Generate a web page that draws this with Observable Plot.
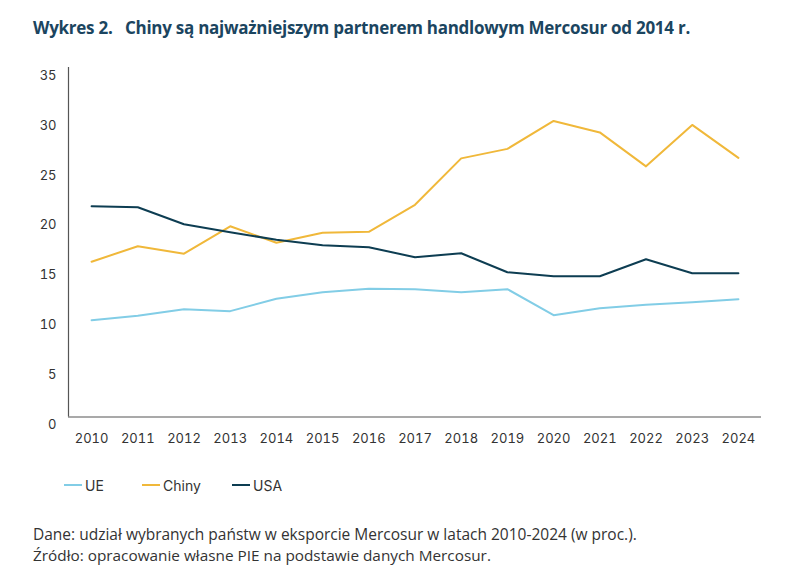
<!DOCTYPE html>
<html><head><meta charset="utf-8">
<script src="https://cdn.jsdelivr.net/npm/d3@7"></script>
<script src="https://cdn.jsdelivr.net/npm/@observablehq/plot@0.6"></script>
<style>
body{margin:0;background:#fff;width:797px;height:586px;position:relative;overflow:hidden;font-family:"Open Sans",sans-serif;}
.t{position:absolute;white-space:pre;line-height:1;}
#title{left:33px;top:19px;font-weight:700;font-family:"Open Sans",sans-serif;color:#1b4560;}
#chart{position:absolute;left:0;top:50px;}
#legend{position:absolute;left:0;top:476px;font:14px Inter,sans-serif;color:#333;}
.li{position:absolute;top:0;white-space:nowrap;display:flex;align-items:center;height:18px;}
.sw{display:inline-block;width:18px;height:2px;margin-right:3px;}
.cap{left:33px;font-family:"Open Sans",sans-serif;color:#333;}
</style></head><body>
<div id="title" class="t" data-w="657" data-fs="17" data-mode="ls">Wykres 2.   Chiny są najważniejszym partnerem handlowym Mercosur od 2014 r.</div>
<div id="chart"></div>
<div id="legend"></div>
<div class="t cap" style="top:527px" data-w="604" data-fs="13.5" data-mode="fs">Dane: udział wybranych państw w eksporcie Mercosur w latach 2010-2024 (w proc.).</div>
<div class="t cap" style="top:548px" data-w="458" data-fs="13.5" data-mode="fs">Źródło: opracowanie własne PIE na podstawie danych Mercosur.</div>
<script>
const years = [2010,2011,2012,2013,2014,2015,2016,2017,2018,2019,2020,2021,2022,2023,2024];
const ue    = [9.7,10.15,10.8,10.6,11.85,12.5,12.85,12.8,12.5,12.8,10.2,10.9,11.25,11.5,11.8];
const chiny = [15.55,17.1,16.35,19.1,17.45,18.45,18.55,21.25,25.9,26.85,29.65,28.5,25.1,29.25,25.95];
const usa   = [21.1,21.0,19.3,18.5,17.75,17.2,17.0,16.0,16.4,14.5,14.1,14.1,15.8,14.4,14.4];
const seriesNames = ["UE","Chiny","USA"];
const seriesColors = ["#82cde6","#f0b83a","#0d3d52"];
const yTicks = [0,5,10,15,20,25,30,35];

const rows = [];
[ue,chiny,usa].forEach((vals,i)=>vals.forEach((v,j)=>rows.push({year:years[j],value:v,series:seriesNames[i]})));

const plot = Plot.plot({
  width:797, height:410,
  marginTop:17, marginBottom:43.5, marginLeft:68, marginRight:36,
  style:{fontFamily:"Inter, sans-serif", fontSize:"13px", color:"#333", background:"transparent"},
  x:{domain:[2009.5,2024.5], label:null},
  y:{domain:[0,35], label:null},
  color:{domain:seriesNames, range:seriesColors},
  marks:[
    Plot.axisY({ticks:yTicks, tickSize:0, tickPadding:12, dy:8, label:null, fill:"#333"}),
    Plot.axisX({ticks:years, tickFormat:d=>String(d), tickSize:0, tickPadding:17, label:null, fill:"#333"}),
    Plot.ruleX([2009.5],{stroke:"#555",strokeWidth:1.2}),
    Plot.ruleY([0],{stroke:"#555",strokeWidth:1.2}),
    Plot.line(rows,{x:"year",y:"value",z:"series",stroke:"series",strokeWidth:2})
  ]
});
document.getElementById("chart").appendChild(plot);

const legend = document.getElementById("legend");
const lx = [64,142,232];
seriesNames.forEach((n,i)=>{
  const d = document.createElement("div");
  d.className="li"; d.style.left=lx[i]+"px";
  d.innerHTML = `<span class="sw" style="background:${seriesColors[i]}"></span>${n}`;
  legend.appendChild(d);
});

// fit text widths to reference
document.querySelectorAll("[data-w]").forEach(el=>{
  const fs = +el.dataset.fs;
  el.style.fontSize = fs+"px";
  const w = el.getBoundingClientRect().width;
  const target = +el.dataset.w;
  if (el.dataset.mode === "fs") {
    el.style.fontSize = (fs*target/w).toFixed(2)+"px";
  } else {
    el.style.letterSpacing = ((target - w)/el.textContent.length).toFixed(3)+"px";
  }
});
</script>
</body></html>
